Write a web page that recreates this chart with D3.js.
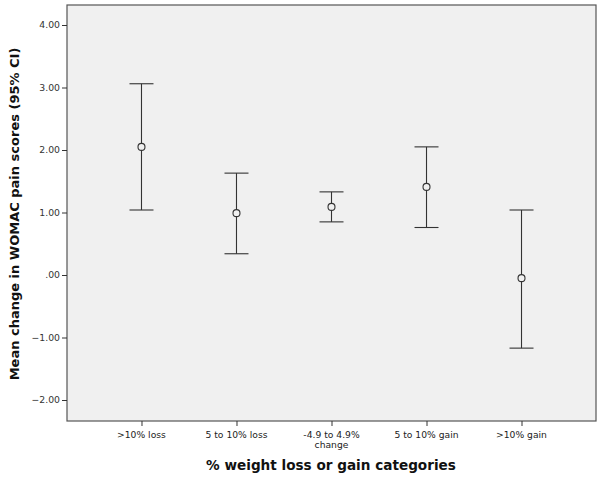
<!DOCTYPE html>
<html><head><meta charset="utf-8">
<script src="https://cdn.jsdelivr.net/npm/d3@7"></script>
<style>body{margin:0;background:#fff;} svg{display:block;}</style>
</head><body>
<svg id="c" width="602" height="480"></svg>
<script>
const categories = [">10% loss", "5 to 10% loss", "-4.9 to 4.9%\nchange", "5 to 10% gain", ">10% gain"];
const means = [2.05, 0.99, 1.09, 1.41, -0.05];
const lowerCI = [1.04, 0.34, 0.85, 0.76, -1.17];
const upperCI = [3.06, 1.63, 1.33, 2.05, 1.04];
const yTicks = [-2, -1, 0, 1, 2, 3, 4];
const yTitle = "Mean change in WOMAC pain scores (95% CI)";
const xTitle = "% weight loss or gain categories";

const svg = d3.select("#c");
const m = {l: 67, t: 5, r: 596, b: 421};
const x = d3.scalePoint().domain(categories).range([m.l, m.r]).padding(0.784);
const y = d3.scaleLinear().domain([-2.336, 4.32]).range([m.b, m.t]);
const font = "'DejaVu Sans', Verdana, sans-serif";

svg.append("rect").attr("x", m.l).attr("y", m.t).attr("width", m.r - m.l).attr("height", m.b - m.t)
  .attr("fill", "#f0f0f0").attr("stroke", "#555").attr("stroke-width", 1.2);

const fmt = v => v === 0 ? ".00" : d3.format(".2f")(v);
const yAxis = svg.append("g").attr("transform", `translate(${m.l},0)`)
  .call(d3.axisLeft(y).tickValues(yTicks).tickFormat(fmt).tickSize(5).tickPadding(2));
yAxis.select(".domain").remove();
yAxis.selectAll("line").attr("stroke", "#333");
yAxis.selectAll("text").attr("fill", "#333").style("font-family", font).style("font-size", "9.3px");

const xAxis = svg.append("g").attr("transform", `translate(0,${m.b})`)
  .call(d3.axisBottom(x).tickSize(5).tickFormat(""));
xAxis.select(".domain").remove();
xAxis.selectAll("line").attr("stroke", "#333");
categories.forEach(c => {
  const lines = c.split("\n");
  const t = svg.append("text").attr("x", x(c)).attr("y", m.b + 17).attr("text-anchor", "middle")
    .attr("fill", "#222").style("font-family", font).style("font-size", "9.2px");
  lines.forEach((ln, i) => t.append("tspan").attr("x", x(c)).attr("dy", i ? 10 : 0).text(ln));
});

const g = svg.append("g");
categories.forEach((c, i) => {
  const cx = x(c);
  g.append("line").attr("x1", cx).attr("x2", cx).attr("y1", y(upperCI[i])).attr("y2", y(lowerCI[i]))
    .attr("stroke", "#333").attr("stroke-width", 1.1);
  [upperCI[i], lowerCI[i]].forEach(v => g.append("line").attr("x1", cx - 12).attr("x2", cx + 12)
    .attr("y1", y(v)).attr("y2", y(v)).attr("stroke", "#333").attr("stroke-width", 1.1));
  g.append("circle").attr("cx", cx).attr("cy", y(means[i])).attr("r", 3.5)
    .attr("fill", "#f0f0f0").attr("stroke", "#333").attr("stroke-width", 1.1);
});

svg.append("text").attr("transform", `translate(19,${(m.t + m.b) / 2 + 1}) rotate(-90)`)
  .attr("text-anchor", "middle").attr("fill", "#111").style("font-family", font)
  .style("font-size", "13px").style("font-weight", "bold").text(yTitle);
svg.append("text").attr("x", 331).attr("y", 470).attr("text-anchor", "middle").attr("fill", "#111")
  .style("font-family", font).style("font-size", "13.6px").style("font-weight", "bold").text(xTitle);
</script>
</body></html>
